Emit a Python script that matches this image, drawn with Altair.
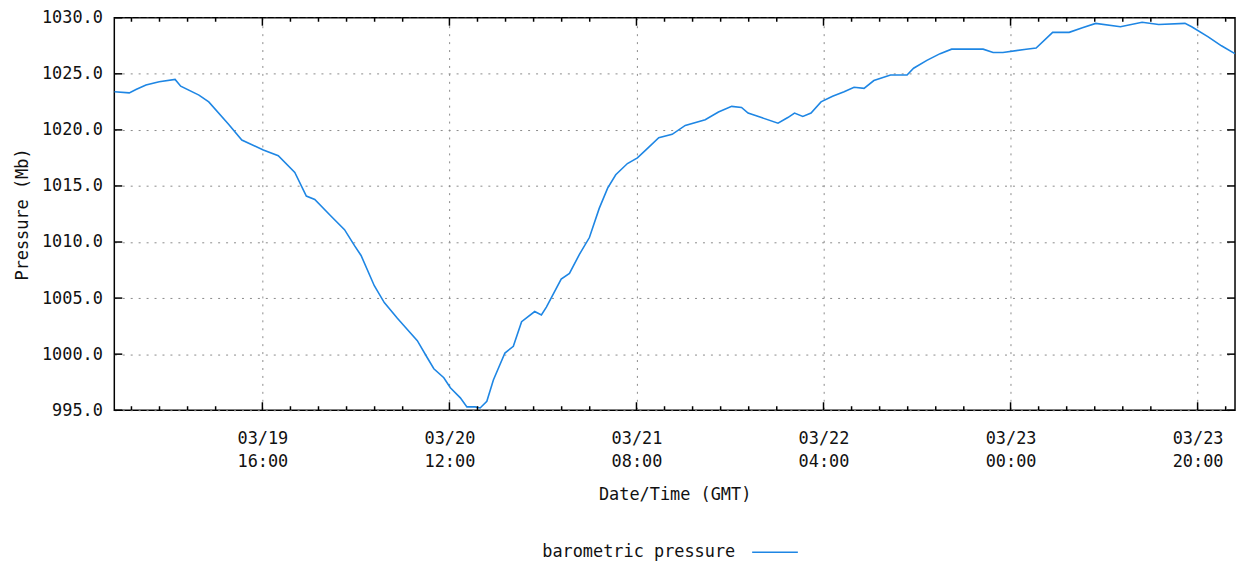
import altair as alt
import pandas as pd

YEAR = "2013"

# time stamps (MM-DD HH:MM, GMT) and barometric pressure (Mb)
times = [
    "03-19 00:11", "03-19 01:46", "03-19 02:29", "03-19 03:33", "03-19 04:58",
    "03-19 06:40", "03-19 07:16", "03-19 09:13", "03-19 10:16", "03-19 12:23",
    "03-19 13:48", "03-19 16:06", "03-19 17:42", "03-19 19:28", "03-19 20:42",
    "03-19 21:36", "03-19 23:21", "03-20 00:47", "03-20 01:50", "03-20 02:33",
    "03-20 03:58", "03-20 05:02", "03-20 06:26", "03-20 07:30", "03-20 08:34",
    "03-20 09:37", "03-20 10:20", "03-20 11:24", "03-20 12:06", "03-20 13:10",
    "03-20 13:52", "03-20 14:45", "03-20 15:17", "03-20 16:00", "03-20 16:42",
    "03-20 17:56", "03-20 18:50", "03-20 19:43", "03-20 21:07", "03-20 21:50",
    "03-20 22:22", "03-20 23:57", "03-21 00:50", "03-21 01:54", "03-21 02:58",
    "03-21 04:01", "03-21 04:55", "03-21 05:47", "03-21 07:02", "03-21 08:06",
    "03-21 08:59", "03-21 10:23", "03-21 11:49", "03-21 13:13", "03-21 15:21",
    "03-21 16:46", "03-21 18:11", "03-21 19:14", "03-21 19:56", "03-21 21:22",
    "03-21 23:08", "03-22 00:11", "03-22 00:54", "03-22 01:47", "03-22 02:40",
    "03-22 03:44", "03-22 04:58", "03-22 06:12", "03-22 07:16", "03-22 08:20",
    "03-22 09:23", "03-22 11:10", "03-22 12:56", "03-22 13:38", "03-22 15:03",
    "03-22 16:28", "03-22 17:42", "03-22 21:04", "03-22 22:08", "03-22 23:11",
    "03-23 01:40", "03-23 02:44", "03-23 04:30", "03-23 06:16", "03-23 07:41",
    "03-23 09:06", "03-23 11:45", "03-23 14:04", "03-23 15:50", "03-23 18:39",
    "03-23 19:22", "03-23 21:08", "03-23 22:33", "03-23 23:59",
]
pressure = [
    1023.4, 1023.3, 1023.6, 1024.0, 1024.3,
    1024.5, 1023.9, 1023.1, 1022.5, 1020.5,
    1019.1, 1018.2, 1017.7, 1016.2, 1014.1,
    1013.8, 1012.3, 1011.1, 1009.7, 1008.8,
    1006.1, 1004.6, 1003.2, 1002.2, 1001.2,
    999.7, 998.7, 997.9, 997.0, 996.1,
    995.3, 995.3, 995.2, 995.8, 997.7,
    1000.1, 1000.7, 1002.9, 1003.8, 1003.5,
    1004.2, 1006.7, 1007.2, 1008.9, 1010.4,
    1013.0, 1014.8, 1016.0, 1017.0, 1017.5,
    1018.2, 1019.3, 1019.6, 1020.4, 1020.9,
    1021.6, 1022.1, 1022.0, 1021.5, 1021.1,
    1020.6, 1021.1, 1021.5, 1021.2, 1021.5,
    1022.5, 1023.0, 1023.4, 1023.8, 1023.7,
    1024.4, 1024.9, 1024.9, 1025.5, 1026.2,
    1026.8, 1027.2, 1027.2, 1026.9, 1026.9,
    1027.2, 1027.3, 1028.7, 1028.7, 1029.1,
    1029.5, 1029.2, 1029.6, 1029.4, 1029.5,
    1029.2, 1028.3, 1027.5, 1026.8,
]

major_ticks = ["03-19 16:00", "03-20 12:00", "03-21 08:00",
               "03-22 04:00", "03-23 00:00", "03-23 20:00"]
minor_ticks = [
    "03-19 02:00", "03-19 05:00", "03-19 08:00", "03-19 11:00",
    "03-19 19:00", "03-19 22:00", "03-20 01:00", "03-20 04:00", "03-20 07:00",
    "03-20 15:00", "03-20 18:00", "03-20 21:00", "03-21 00:00", "03-21 03:00",
    "03-21 11:00", "03-21 14:00", "03-21 17:00", "03-21 20:00", "03-21 23:00",
    "03-22 07:00", "03-22 10:00", "03-22 13:00", "03-22 16:00", "03-22 19:00",
    "03-23 03:00", "03-23 06:00", "03-23 09:00", "03-23 12:00", "03-23 15:00",
    "03-23 23:00",
]
y_ticks = [995, 1000, 1005, 1010, 1015, 1020, 1025, 1030]
x_range = ["03-19 00:10", "03-24 00:00"]
series_name = "barometric pressure"

FONT = "DejaVu Sans Mono"
LINE_COLOR = "#1e86e4"
W, H = 1128, 395


def iso(s):
    return f"{YEAR}-{s[:5]}T{s[6:]}:00Z"


def dt(s):
    return alt.DateTime(year=int(YEAR), month=int(s[:2]), date=int(s[3:5]),
                        hours=int(s[6:8]), minutes=int(s[9:11]), utc=True)


df = pd.DataFrame({"time": [iso(t) for t in times], "pressure": pressure})
major_df = pd.DataFrame({"time": [iso(t) for t in major_ticks]})
minor_df = pd.DataFrame({"time": [iso(t) for t in minor_ticks]})
ytick_df = pd.DataFrame({"pressure": y_ticks})
legend_df = pd.DataFrame({"label": [series_name]})

x_scale = alt.Scale(type="utc", domain=[dt(x_range[0]), dt(x_range[1])])
y_scale = alt.Scale(domain=[y_ticks[0], y_ticks[-1]], nice=False, zero=False)

grid_kw = dict(grid=True, gridDash=[2, 6], gridColor="#8a8a8a", gridWidth=1,
               domain=False, ticks=False)

x_enc = alt.X("time:T", scale=x_scale, axis=alt.Axis(
    values=[dt(s) for s in major_ticks],
    labelExpr="[utcFormat(datum.value, '%m/%d'), utcFormat(datum.value, '%H:%M')]",
    labelFont=FONT, labelFontSize=17, labelColor="#111", labelPadding=21,
    labelLineHeight=23, labelAngle=0, labelFlush=False, labelOverlap=False,
    title="Date/Time (GMT)", titleFont=FONT, titleFontSize=17,
    titleFontWeight="normal", titleColor="#111", titlePadding=17,
    **grid_kw))
y_enc = alt.Y("pressure:Q", scale=y_scale, axis=alt.Axis(
    values=y_ticks, format=".1f",
    labelFont=FONT, labelFontSize=17, labelColor="#111", labelPadding=12,
    title="Pressure (Mb)", titleFont=FONT, titleFontSize=17,
    titleFontWeight="normal", titleColor="#111", titlePadding=10,
    **grid_kw))

line = alt.Chart(df).mark_line(color=LINE_COLOR, strokeWidth=1.6).encode(
    x=x_enc, y=y_enc)

bottom_major = alt.Chart(major_df).mark_rule(color="black", strokeWidth=1.5).encode(
    x=x_enc, y=alt.value(H), y2=alt.value(H - 8))
top_major = alt.Chart(major_df).mark_rule(color="black", strokeWidth=1.5).encode(
    x=x_enc, y=alt.value(0), y2=alt.value(8))
bottom_minor = alt.Chart(minor_df).mark_rule(color="black", strokeWidth=1.5).encode(
    x=x_enc, y=alt.value(H), y2=alt.value(H - 4))
top_minor = alt.Chart(minor_df).mark_rule(color="black", strokeWidth=1.5).encode(
    x=x_enc, y=alt.value(0), y2=alt.value(4))

left_ticks = alt.Chart(ytick_df).mark_rule(color="black", strokeWidth=1.5).encode(
    y=y_enc, x=alt.value(0), x2=alt.value(8))
right_ticks = alt.Chart(ytick_df).mark_rule(color="black", strokeWidth=1.5).encode(
    y=y_enc, x=alt.value(W), x2=alt.value(W - 8))

legend_text = alt.Chart(legend_df).mark_text(
    font=FONT, fontSize=17, color="#111", align="right", baseline="middle"
).encode(text="label:N", x=alt.value(625), y=alt.value(538))
legend_line = alt.Chart(legend_df).mark_rule(color=LINE_COLOR, strokeWidth=1.6).encode(
    x=alt.value(642), x2=alt.value(688), y=alt.value(538))

chart = alt.layer(
    line, bottom_major, top_major, bottom_minor, top_minor,
    left_ticks, right_ticks, legend_text, legend_line,
).properties(
    width=W, height=H,
    autosize=alt.AutoSizeParams(type="none"),
    padding={"left": 107, "top": 8, "right": 2, "bottom": 160},
).configure_view(
    stroke="black", strokeWidth=1.5
)

chart.save("out.html", embed_options={"renderer": "svg", "actions": False})
